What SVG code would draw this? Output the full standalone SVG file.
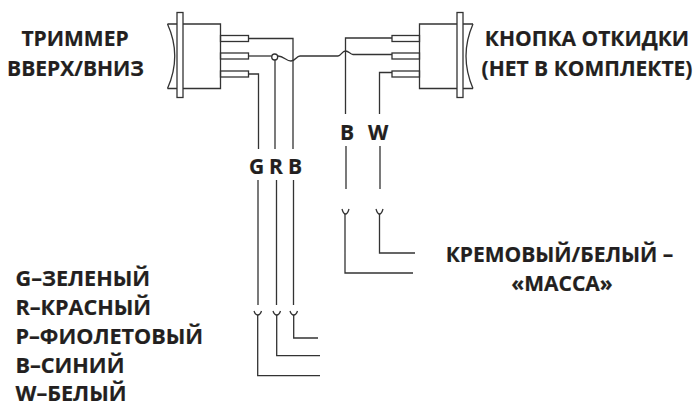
<svg xmlns="http://www.w3.org/2000/svg" width="695" height="408" viewBox="0 0 695 408">
<style>
.w{fill:none;stroke:#333;stroke-width:1.3}
.s{fill:none;stroke:#333;stroke-width:1.3}
.t{font-family:"Open Sans","Noto Sans",sans-serif;font-weight:700;font-size:21px;fill:#231f20;stroke:#231f20;stroke-width:.2}
.l{font-size:21.600px}
.m{text-anchor:middle}
</style>
<rect width="695" height="408" fill="#fff"/>
<g id="left-switch" class="s">
<path d="M167.500 24H220.500V88.500H167.500"/>
<path d="M167.500 24Q182 56 167.500 88.500"/>
<rect x="177" y="12.500" width="6" height="85" fill="#fff"/>
<rect x="220.500" y="35.500" width="28" height="6"/>
<rect x="220.500" y="53" width="28" height="6"/>
<rect x="220.500" y="71" width="28" height="6"/>
</g>
<g id="right-switch" class="s">
<path d="M473 24H419.500V88.500H473"/>
<path d="M473 24Q459 56 473 88.500"/>
<rect x="457" y="12.500" width="6" height="85" fill="#fff"/>
<rect x="392" y="35.500" width="27.500" height="6"/>
<rect x="392" y="53" width="27.500" height="6"/>
<rect x="392" y="71" width="27.500" height="6"/>
</g>
<g id="connectors" class="w">
<path d="M248.500 38.500H293V149"/>
<path d="M248.500 56H271.500"/>
<circle cx="274.700" cy="57" r="3"/>
<path d="M275 60V149"/>
<path d="M248.500 74H258.500V149"/>
<path d="M278 56C284 56 286 61 291 61C296 61 296 56 300 56H338C341 56 342 51 345.500 51C349 51 350 54.500 353 54.500H392"/>
<path d="M392 38H345.500V114"/>
<path d="M392 72.500H379.500V114"/>
<path d="M346 146V189M380 146V189"/>
<path d="M258 180V305M276.500 180V305M293.500 180V305"/>
<path d="M254 311C255 314 256.500 315 257.700 315C259 315 260.500 314 261.500 311M273 311C274 314 275.300 315 276.700 315C278 315 279.500 314 280.500 311M290 311C291 314 292.300 315 293.700 315C295 315 296.500 314 297.500 311"/>
<path d="M257.700 315V375.700H320M276.700 315V355.700H320M293.700 315V338H318"/>
<path d="M342 209C343 212.500 344 214 345.500 214C347 214 348 212.500 349 209M376 209C377 212.500 378 214 379.500 214C381 214 382 212.500 383 209"/>
<path d="M345 214V273H413M379.500 214V253H415"/>
</g>
<g id="labels">
<text class="t m" x="75" y="46">ТРИММЕР</text>
<text class="t m" x="75.500" y="76">ВВЕРХ/ВНИЗ</text>
<text class="t m" x="587" y="46">КНОПКА ОТКИДКИ</text>
<text class="t m" x="587" y="76">(НЕТ В КОМПЛЕКТЕ)</text>
<text class="t" x="249" y="174">G</text>
<text class="t" x="269" y="174">R</text>
<text class="t" x="288" y="174">B</text>
<text class="t" x="340" y="140">B</text>
<text class="t" x="368" y="140">W</text>
<text class="t m" x="559.500" y="262">КРЕМОВЫЙ/БЕЛЫЙ –</text>
<text class="t m" x="562" y="291">«МАССА»</text>
<text class="t l" x="15.500" y="286">G–ЗЕЛЕНЫЙ</text>
<text class="t l" x="15.500" y="315">R–КРАСНЫЙ</text>
<text class="t l" x="15.500" y="343.500">P–ФИОЛЕТОВЫЙ</text>
<text class="t l" x="15.500" y="372.500">В–СИНИЙ</text>
<text class="t l" x="15.500" y="401">W–БЕЛЫЙ</text>
</g>
</svg>
